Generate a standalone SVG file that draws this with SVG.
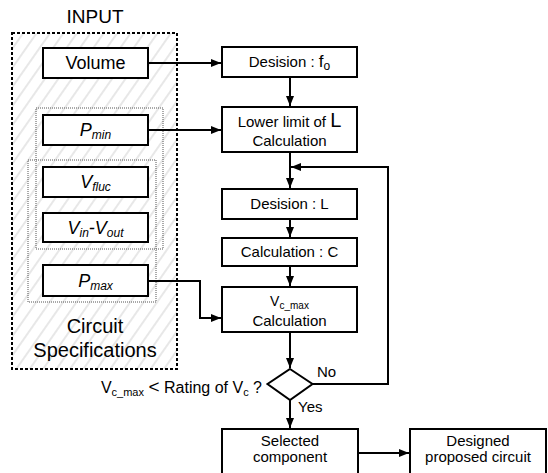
<svg xmlns="http://www.w3.org/2000/svg" width="548" height="473" viewBox="0 0 548 473">
<defs>
<pattern id="hatch" patternUnits="userSpaceOnUse" width="11" height="11" patternTransform="rotate(35)">
<rect width="11" height="11" fill="#ffffff"/>
<line x1="5" y1="0" x2="5" y2="11" stroke="#e2e2e2" stroke-width="1.6"/>
</pattern>
<marker id="arr" markerWidth="10" markerHeight="8" refX="10" refY="4" orient="auto" markerUnits="userSpaceOnUse">
<path d="M0,0 L10,4 L0,8 Z" fill="#000"/>
</marker>
</defs>
<style>
text{font-family:"Liberation Sans",Arial,sans-serif;fill:#000}
.box{fill:#fff;stroke:#000;stroke-width:2}
.dot{fill:none;stroke:#555;stroke-width:1;stroke-dasharray:1 1}
.in{font-size:18px;text-anchor:middle}
.it{font-style:italic}
.fl{font-size:15px;text-anchor:middle}
.conn{fill:none;stroke:#000;stroke-width:2}
</style>
<rect width="548" height="473" fill="#fff"/>

<g id="input-group">
<text x="95" y="23" style="font-size:19px" text-anchor="middle">INPUT</text>
<rect x="12" y="33" width="165" height="336" fill="url(#hatch)" stroke="#000" stroke-width="2" stroke-dasharray="3 2"/>
<rect class="dot" x="36" y="108" width="127" height="141"/>
<rect class="dot" x="28" y="160" width="128" height="142"/>
<text x="95" y="333" style="font-size:20px" text-anchor="middle">Circuit</text>
<text x="95" y="357" style="font-size:20px" text-anchor="middle">Specifications</text>
</g>

<g id="volume">
<rect class="box" x="43" y="48" width="105" height="30"/>
<text class="in" x="95.5" y="69">Volume</text>
</g>
<g id="pmin">
<rect class="box" x="43" y="115" width="105" height="30"/>
<text class="in it" x="95.5" y="136">P<tspan dy="3" style="font-size:12px">min</tspan></text>
</g>
<g id="vfluc">
<rect class="box" x="43" y="167" width="105" height="30"/>
<text class="in it" x="95.5" y="188">V<tspan dy="3" style="font-size:12px">fluc</tspan></text>
</g>
<g id="vinvout">
<rect class="box" x="43" y="213" width="105" height="29"/>
<text class="in it" x="95.5" y="234">V<tspan dy="3" style="font-size:12px">in</tspan><tspan dy="-3">-V</tspan><tspan dy="3" style="font-size:12px">out</tspan></text>
</g>
<g id="pmax">
<rect class="box" x="43" y="265" width="105" height="31"/>
<text class="in it" x="95.5" y="287">P<tspan dy="3" style="font-size:12px">max</tspan></text>
</g>

<g id="decision-fo">
<rect class="box" x="222" y="47" width="135" height="30"/>
<text class="fl" x="289.5" y="67">Desision : <tspan style="font-size:17px">f</tspan><tspan dy="3" style="font-size:12px">o</tspan></text>
</g>
<g id="lower-limit">
<rect class="box" x="222" y="107" width="135" height="45"/>
<text class="fl" x="289.5" y="127">Lower limit of <tspan style="font-size:20px">L</tspan></text>
<text class="fl" x="289.5" y="146">Calculation</text>
</g>
<g id="decision-l">
<rect class="box" x="222" y="189" width="135" height="30"/>
<text class="fl" x="289.5" y="209">Desision : L</text>
</g>
<g id="calc-c">
<rect class="box" x="222" y="238" width="135" height="28"/>
<text class="fl" x="289.5" y="257">Calculation : C</text>
</g>
<g id="vcmax">
<rect class="box" x="222" y="287" width="135" height="45"/>
<text class="fl" x="289.5" y="306" style="font-size:14px">V<tspan dy="3" style="font-size:10px">c_max</tspan></text>
<text class="fl" x="289.5" y="326">Calculation</text>
</g>
<g id="check">
<polygon points="290,369 312.5,384 290,400 267.5,384" fill="#fff" stroke="#000" stroke-width="2"/>
<text x="262" y="393" style="font-size:16px" text-anchor="end">V<tspan dy="3" style="font-size:11px">c_max</tspan><tspan dy="-3"> <tspan style="font-size:19px">&lt;</tspan> Rating of V</tspan><tspan dy="3" style="font-size:11px">c</tspan><tspan dy="-3"> ?</tspan></text>
<text x="317" y="377" style="font-size:15px">No</text>
<text x="298" y="412" style="font-size:15px">Yes</text>
</g>
<g id="selected">
<rect class="box" x="222" y="429" width="136" height="52"/>
<text class="fl" x="290" y="446">Selected</text>
<text class="fl" x="290" y="462">component</text>
</g>
<g id="designed">
<rect class="box" x="410" y="429" width="136" height="52"/>
<text class="fl" x="478" y="446">Designed</text>
<text class="fl" x="478" y="462">proposed circuit</text>
</g>

<g id="connectors">
<path class="conn" d="M148,63 H221" marker-end="url(#arr)"/>
<path class="conn" d="M148,130 H221" marker-end="url(#arr)"/>
<path class="conn" d="M148,281 H200 V318 H221" marker-end="url(#arr)"/>
<path class="conn" d="M290,77 V106" marker-end="url(#arr)"/>
<path class="conn" d="M290,152 V188" marker-end="url(#arr)"/>
<path class="conn" d="M312.5,384 H388 V167 H291" marker-end="url(#arr)"/>
<path class="conn" d="M290,219 V237" marker-end="url(#arr)"/>
<path class="conn" d="M290,266 V286" marker-end="url(#arr)"/>
<path class="conn" d="M290,332 V368" marker-end="url(#arr)"/>
<path class="conn" d="M290,400 V428" marker-end="url(#arr)"/>
<path class="conn" d="M358,453 H409" marker-end="url(#arr)"/>
</g>
</svg>
